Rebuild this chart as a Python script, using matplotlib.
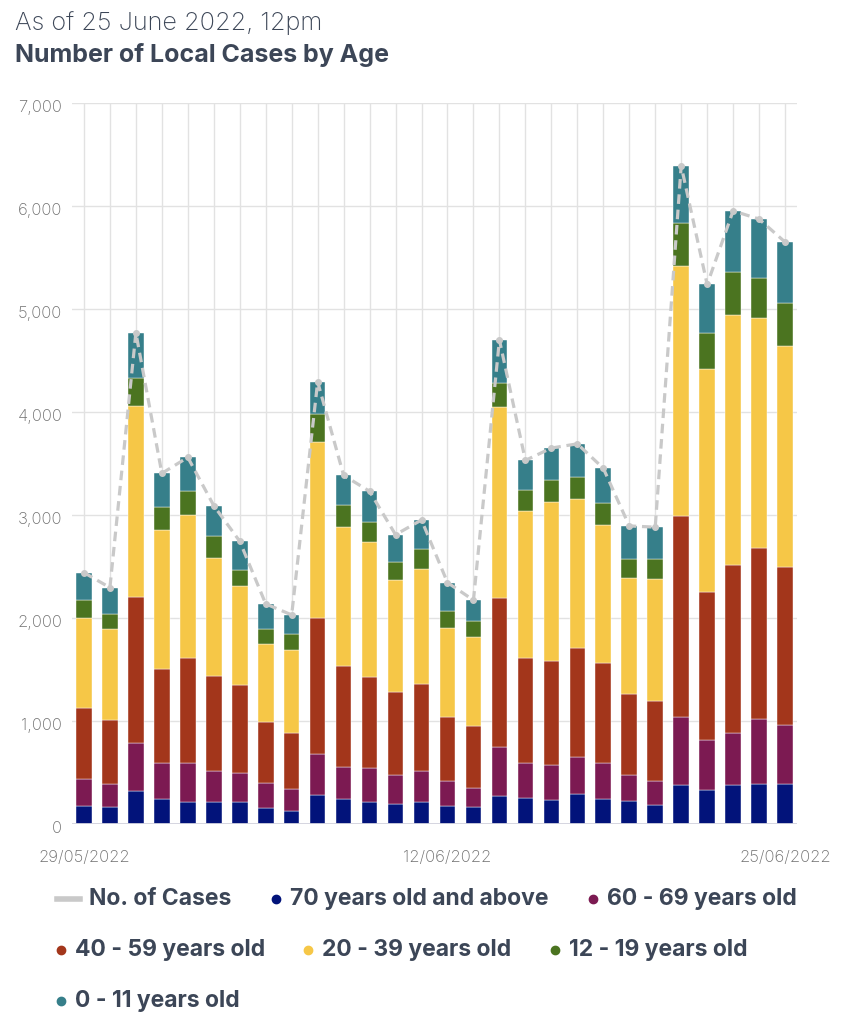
import numpy as np
import pandas as pd
import matplotlib.pyplot as plt
from matplotlib.transforms import ScaledTranslation

plt.rcParams['font.family'] = ['Inter', 'Roboto', 'DejaVu Sans']

dates = pd.date_range("2022-05-29", "2022-06-25").strftime("%d/%m/%Y").tolist()
shown_dates = ["29/05/2022", "12/06/2022", "25/06/2022"]

# cases per age group, one value per day
age_70_plus = [171, 165, 320, 246, 210, 210, 210, 158, 129, 278, 239, 210, 197, 210,
               171, 162, 275, 249, 230, 291, 244, 223, 181, 379, 328, 379, 387, 387]
age_60_69 = [262, 220, 462, 349, 378, 307, 288, 236, 210, 398, 311, 336, 281, 307,
             249, 190, 475, 346, 345, 356, 345, 252, 235, 656, 484, 504, 631, 576]
age_40_59 = [695, 620, 1420, 912, 1019, 922, 850, 592, 547, 1322, 986, 883, 802, 844,
             618, 598, 1442, 1012, 1006, 1060, 976, 783, 779, 1952, 1443, 1633, 1658, 1532]
age_20_39 = [876, 893, 1855, 1344, 1390, 1144, 964, 766, 808, 1713, 1351, 1309, 1087, 1119,
             869, 870, 1856, 1432, 1542, 1446, 1338, 1127, 1182, 2432, 2162, 2427, 2238, 2141]
age_12_19 = [172, 145, 269, 230, 236, 210, 158, 146, 149, 266, 210, 198, 174, 194,
             165, 155, 236, 204, 217, 212, 214, 186, 198, 416, 354, 417, 391, 421]
age_0_11 = [265, 252, 444, 323, 327, 298, 275, 239, 187, 316, 288, 294, 268, 278,
            272, 198, 416, 287, 310, 326, 337, 323, 307, 555, 467, 593, 568, 593]

groups = [age_70_plus, age_60_69, age_40_59, age_20_39, age_12_19, age_0_11]
labels = ["70 years old and above", "60 - 69 years old", "40 - 59 years old",
          "20 - 39 years old", "12 - 19 years old", "0 - 11 years old"]
colors = ["#02137a", "#7c1a52", "#a3361b", "#f6c747", "#4b7420", "#367f8a"]

x = np.arange(len(dates))
totals = np.sum(groups, axis=0)

text_col = "#3c4657"
tick_col = "#6f6f6f"
line_col = "#c9c9c9"

fig = plt.figure(figsize=(8.45, 10.24), dpi=100)
ax = fig.add_axes([72 / 845, 1 - 824 / 1024, (797 - 72) / 845, (824 - 103) / 1024])

bottom = np.zeros(len(dates))
for vals, c in zip(groups, colors):
    ax.bar(x, vals, bottom=bottom, width=0.6, color=c, edgecolor="#ffffff",
           linewidth=0.3, zorder=3)
    bottom += np.array(vals)

ax.plot(x, totals, color=line_col, lw=2.3, dashes=(3, 1.8), marker="o", ms=4,
        zorder=5)

ax.set_xlim(-0.46, 27.46)
ax.set_ylim(0, 7000)
ax.set_yticks(range(0, 7001, 1000))
ax.set_yticklabels([f"{v:,}" for v in range(0, 7001, 1000)])
ax.set_xticks(x)
ax.set_xticklabels([d if d in shown_dates else "" for d in dates])
ax.tick_params(axis="both", length=0, labelsize=12, labelcolor=tick_col)
ax.tick_params(axis="y", pad=7)
ax.tick_params(axis="x", pad=19)
for t in ax.get_xticklabels() + ax.get_yticklabels():
    t.set_fontweight("light")
# y labels sit a little below their gridline in the original
shift = ScaledTranslation(0, -2 / 72, fig.dpi_scale_trans)
for t in ax.get_yticklabels():
    t.set_transform(t.get_transform() + shift)
ax.grid(True, color="#e2e2e2", lw=1, zorder=0)
ax.axhline(0, color="#d2d2de", lw=2, zorder=4)
for s in ax.spines.values():
    s.set_visible(False)

# titles
fig.text(15 / 845, 1 - 30 / 1024, "As of 25 June 2022, 12pm", fontsize=18.2,
         fontweight="light", color=text_col, va="baseline")
fig.text(15 / 845, 1 - 62 / 1024, "Number of Local Cases by Age", fontsize=18,
         fontweight="bold", color=text_col, va="baseline")

# legend laid out like the original (flowing rows)
def fx(px):
    return px / 845


def fy(py):
    return 1 - py / 1024


fig.lines.append(plt.Line2D([fx(57), fx(80)], [fy(899), fy(899)], color=line_col,
                            lw=4, transform=fig.transFigure))
fig.text(fx(89), fy(899), "No. of Cases", fontsize=16.5, fontweight="bold",
         color=text_col, va="center")

legend_pos = [(276, 899), (593, 899), (61, 950), (308, 950), (555, 950), (61, 1001)]
for (px, py), lab, c in zip(legend_pos, labels, colors):
    fig.lines.append(plt.Line2D([fx(px)], [fy(py)], marker="o", ms=6, color=c,
                                lw=0, transform=fig.transFigure))
    fig.text(fx(px + 14), fy(py), lab, fontsize=16.5, fontweight="bold",
             color=text_col, va="center")

fig.savefig("out.png", dpi=100, facecolor="white")
